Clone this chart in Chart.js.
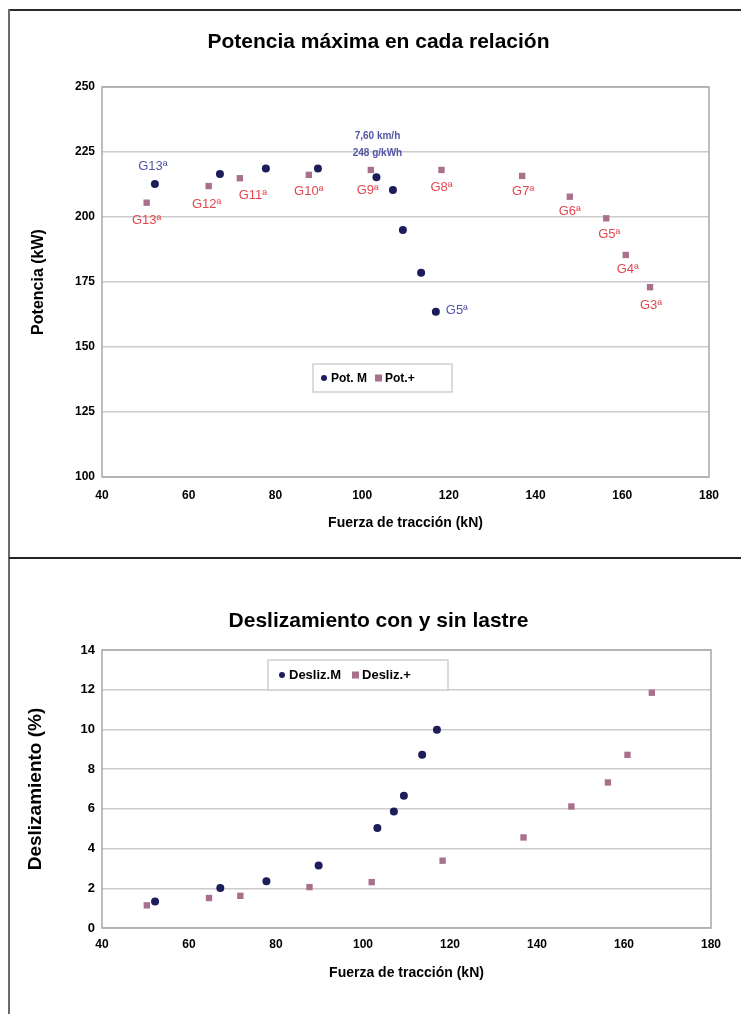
<!DOCTYPE html>
<html>
<head>
<meta charset="utf-8">
<script src="https://cdn.jsdelivr.net/npm/chart.js@4.4.0/dist/chart.umd.min.js"></script>
<style>
  body { margin: 0; background: #fff; width: 741px; height: 1014px; overflow: hidden; position: relative; }
  canvas { position: absolute; left: 10px; }
  #topChart { top: 11px; }
  #botChart { top: 560px; }
  .line { position: absolute; }
  .frame-top { left: 9px; top: 9px; width: 732px; height: 2px; background: #2a2a2a; }
  .frame-left { left: 8px; top: 9px; width: 2px; height: 1005px; background: #6a6a6a; }
  .divider { left: 9px; top: 557px; width: 732px; height: 2px; background: #222; }
</style>
</head>
<body>
<div class="line frame-top"></div>
<div class="line frame-left"></div>
<div class="line divider"></div>
<canvas id="topChart" width="731" height="546"></canvas>
<canvas id="botChart" width="731" height="454"></canvas>
<script>
// Fuerza de traccion (kN) per gear, without ballast (M) and with ballast (+)
const fuerzaM = [52.2, 67.2, 77.8, 89.8, 103.3, 107.1, 109.4, 113.6, 117.0];
const fuerzaLastre = [50.3, 64.6, 71.8, 87.7, 102.0, 118.3, 136.9, 147.9, 156.3, 160.8, 166.4];

// Potencia maxima (kW)
const potenciaM = [212.7, 216.5, 218.7, 218.7, 215.3, 210.4, 195.0, 178.6, 163.6];
const potenciaLastre = [205.5, 211.9, 214.9, 216.2, 218.1, 218.1, 215.8, 207.8, 199.5, 185.4, 173.0];

// Deslizamiento (%)
const deslizM = [1.34, 2.01, 2.35, 3.15, 5.03, 5.87, 6.66, 8.72, 9.98];
const deslizLastre = [1.14, 1.51, 1.62, 2.06, 2.31, 3.39, 4.56, 6.12, 7.33, 8.72, 11.85];

// gear names
const marchasM = ['G13ª', 'G12ª', 'G11ª', 'G10ª', 'G9ª', 'G8ª', 'G7ª', 'G6ª', 'G5ª'];
const marchasLastre = ['G13ª', 'G12ª', 'G11ª', 'G10ª', 'G9ª', 'G8ª', 'G7ª', 'G6ª', 'G5ª', 'G4ª', 'G3ª'];
const notaG9 = ['7,60 km/h', '248 g/kWh'];

const NAVY = '#1d1d5c';
const MAUVE = '#a8708c';
const RED_TXT = '#e2474f';
const BLUE_TXT = '#5454a6';
const FONT = 'Arial, "Liberation Sans", sans-serif';

Chart.defaults.font.family = FONT;
Chart.defaults.color = '#000';

function toPoints(xs, ys) {
    return xs.map((x, i) => ({ x: x, y: ys[i] }));
}

// chart heading, centred on the canvas
const heading = {
    id: 'heading',
    afterDraw(chart, args, o) {
        const ctx = chart.ctx;
        ctx.save();
        ctx.font = 'bold 21px ' + FONT;
        ctx.fillStyle = '#000';
        ctx.textAlign = 'center';
        ctx.textBaseline = 'middle';
        ctx.fillText(o.text, chart.width / 2 + o.dx, o.y);
        ctx.restore();
    }
};

// box round the plot area
const plotFrame = {
    id: 'plotFrame',
    beforeDatasetsDraw(chart) {
        const { ctx, chartArea: a } = chart;
        ctx.save();
        ctx.strokeStyle = '#a8a8a8';
        ctx.lineWidth = 1.5;
        ctx.strokeRect(a.left, a.top, a.right - a.left, a.bottom - a.top);
        ctx.restore();
    }
};

// text next to the points
const pointLabels = {
    id: 'pointLabels',
    afterDatasetsDraw(chart, args, opts) {
        const ctx = chart.ctx;
        (opts.items || []).forEach(item => {
            const el = chart.getDatasetMeta(item.dataset).data[item.index];
            ctx.save();
            ctx.font = item.font || ('13px ' + FONT);
            ctx.fillStyle = item.color;
            ctx.textAlign = 'center';
            ctx.textBaseline = 'middle';
            ctx.fillText(item.text, el.x + item.dx, el.y + item.dy);
            ctx.restore();
        });
    }
};

// legend box inside the plot area
const boxLegend = {
    id: 'boxLegend',
    afterDatasetsDraw(chart, args, o) {
        if (!o.w) return;
        const { ctx, chartArea } = chart;
        const x = chartArea.left + o.dx, y = chartArea.top + o.dy;
        ctx.save();
        ctx.fillStyle = '#fff';
        ctx.fillRect(x, y, o.w, o.h);
        ctx.strokeStyle = '#cfcfcf';
        ctx.lineWidth = 1.5;
        ctx.strokeRect(x, y, o.w, o.h);
        ctx.font = 'bold ' + o.size + 'px ' + FONT;
        ctx.textBaseline = 'middle';
        const cy = y + o.h / 2;
        let cx = x + o.pad;
        chart.data.datasets.forEach(ds => {
            ctx.fillStyle = ds.backgroundColor;
            if (ds.pointStyle === 'circle') {
                ctx.beginPath();
                ctx.arc(cx + 3, cy, 3, 0, Math.PI * 2);
                ctx.fill();
            } else {
                ctx.fillRect(cx, cy - 3.5, 7, 7);
            }
            ctx.fillStyle = '#000';
            ctx.fillText(ds.label, cx + 10, cy + 0.5);
            cx += 10 + ctx.measureText(ds.label).width + o.gap;
        });
        ctx.restore();
    }
};

function makeChart(id, cfg) {
    return new Chart(document.getElementById(id), {
        type: 'scatter',
        data: {
            datasets: [
                {
                    label: cfg.labels[0], data: cfg.seriesM, pointStyle: 'circle',
                    backgroundColor: NAVY, borderColor: NAVY, pointRadius: 4, borderWidth: 0
                },
                {
                    label: cfg.labels[1], data: cfg.seriesL, pointStyle: 'rect',
                    backgroundColor: MAUVE, borderColor: MAUVE, pointRadius: 4.5, borderWidth: 0
                }
            ]
        },
        options: {
            responsive: false,
            animation: false,
            layout: { padding: { left: 0, right: cfg.padRight, top: cfg.padTop, bottom: 0 } },
            plugins: {
                legend: { display: false },
                tooltip: { enabled: false },
                title: { display: false },
                heading: { text: cfg.title, y: cfg.titleY, dx: 3 },
                pointLabels: { items: cfg.pointLabels || [] },
                boxLegend: cfg.legend
            },
            scales: {
                x: {
                    type: 'linear', min: 40, max: 180,
                    ticks: { stepSize: 20, padding: cfg.xTickPad, font: { size: 12, weight: 'bold' } },
                    grid: { display: false, drawTicks: false },
                    border: { display: false },
                    title: {
                        display: true, text: 'Fuerza de tracción (kN)',
                        font: { size: 14, weight: 'bold' }, padding: { top: 0, bottom: cfg.xTitleBottom }
                    },
                    afterFit: s => { s.height = cfg.xHeight; }
                },
                y: {
                    min: cfg.yMin, max: cfg.yMax,
                    ticks: { stepSize: cfg.yStep, padding: 7, font: { size: cfg.yTickSize, weight: 'bold' } },
                    grid: { color: '#cccccc', lineWidth: 1.5, drawTicks: false },
                    border: { display: false },
                    title: {
                        display: true, text: cfg.yTitle,
                        font: { size: cfg.yTitleSize, weight: 'bold' }, padding: { top: cfg.yTitleTop, bottom: 0 }
                    },
                    afterFit: s => { s.width = 92; }
                }
            }
        },
        plugins: [heading, plotFrame, pointLabels, boxLegend]
    });
}

// labels for the power chart
const topLabels = [];
const lastreOffsets = [[0, 18], [-2, 18], [13, 17], [0, 17], [-3, 20], [0, 17], [1, 16], [0, 15], [3, 16], [2, 14], [1, 18]];
marchasLastre.forEach((t, i) => {
    topLabels.push({ dataset: 1, index: i, text: t, color: RED_TXT, dx: lastreOffsets[i][0], dy: lastreOffsets[i][1] });
});
topLabels.push({ dataset: 0, index: 0, text: marchasM[0], color: BLUE_TXT, dx: -2, dy: -18 });
topLabels.push({ dataset: 0, index: 8, text: marchasM[8], color: BLUE_TXT, dx: 21, dy: -1 });
notaG9.forEach((t, i) => {
    topLabels.push({ dataset: 0, index: 4, text: t, color: BLUE_TXT, dx: 1, dy: -41 + i * 17, font: 'bold 10px ' + FONT });
});

makeChart('topChart', {
    title: 'Potencia máxima en cada relación',
    titleY: 31, padTop: 76,
    labels: ['Pot. M', 'Pot.+'],
    seriesM: toPoints(fuerzaM, potenciaM),
    seriesL: toPoints(fuerzaLastre, potenciaLastre),
    yMin: 100, yMax: 250, yStep: 25, yTickSize: 12,
    yTitle: 'Potencia (kW)', yTitleTop: 19, yTitleSize: 16,
    padRight: 32,
    xHeight: 80, xTickPad: 11, xTitleBottom: 25,
    pointLabels: topLabels,
    legend: { dx: 211, dy: 277, w: 139, h: 28, pad: 8, gap: 8, size: 12 }
});

makeChart('botChart', {
    title: 'Deslizamiento con y sin lastre',
    titleY: 61, padTop: 90,
    labels: ['Desliz.M', 'Desliz.+'],
    seriesM: toPoints(fuerzaM, deslizM),
    seriesL: toPoints(fuerzaLastre, deslizLastre),
    yMin: 0, yMax: 14, yStep: 2, yTickSize: 13,
    yTitle: 'Deslizamiento (%)', yTitleTop: 14, yTitleSize: 19,
    padRight: 30,
    xHeight: 86, xTickPad: 9, xTitleBottom: 32,
    legend: { dx: 166, dy: 10, w: 180, h: 30, pad: 11, gap: 11, size: 13 }
});
</script>
</body>
</html>
